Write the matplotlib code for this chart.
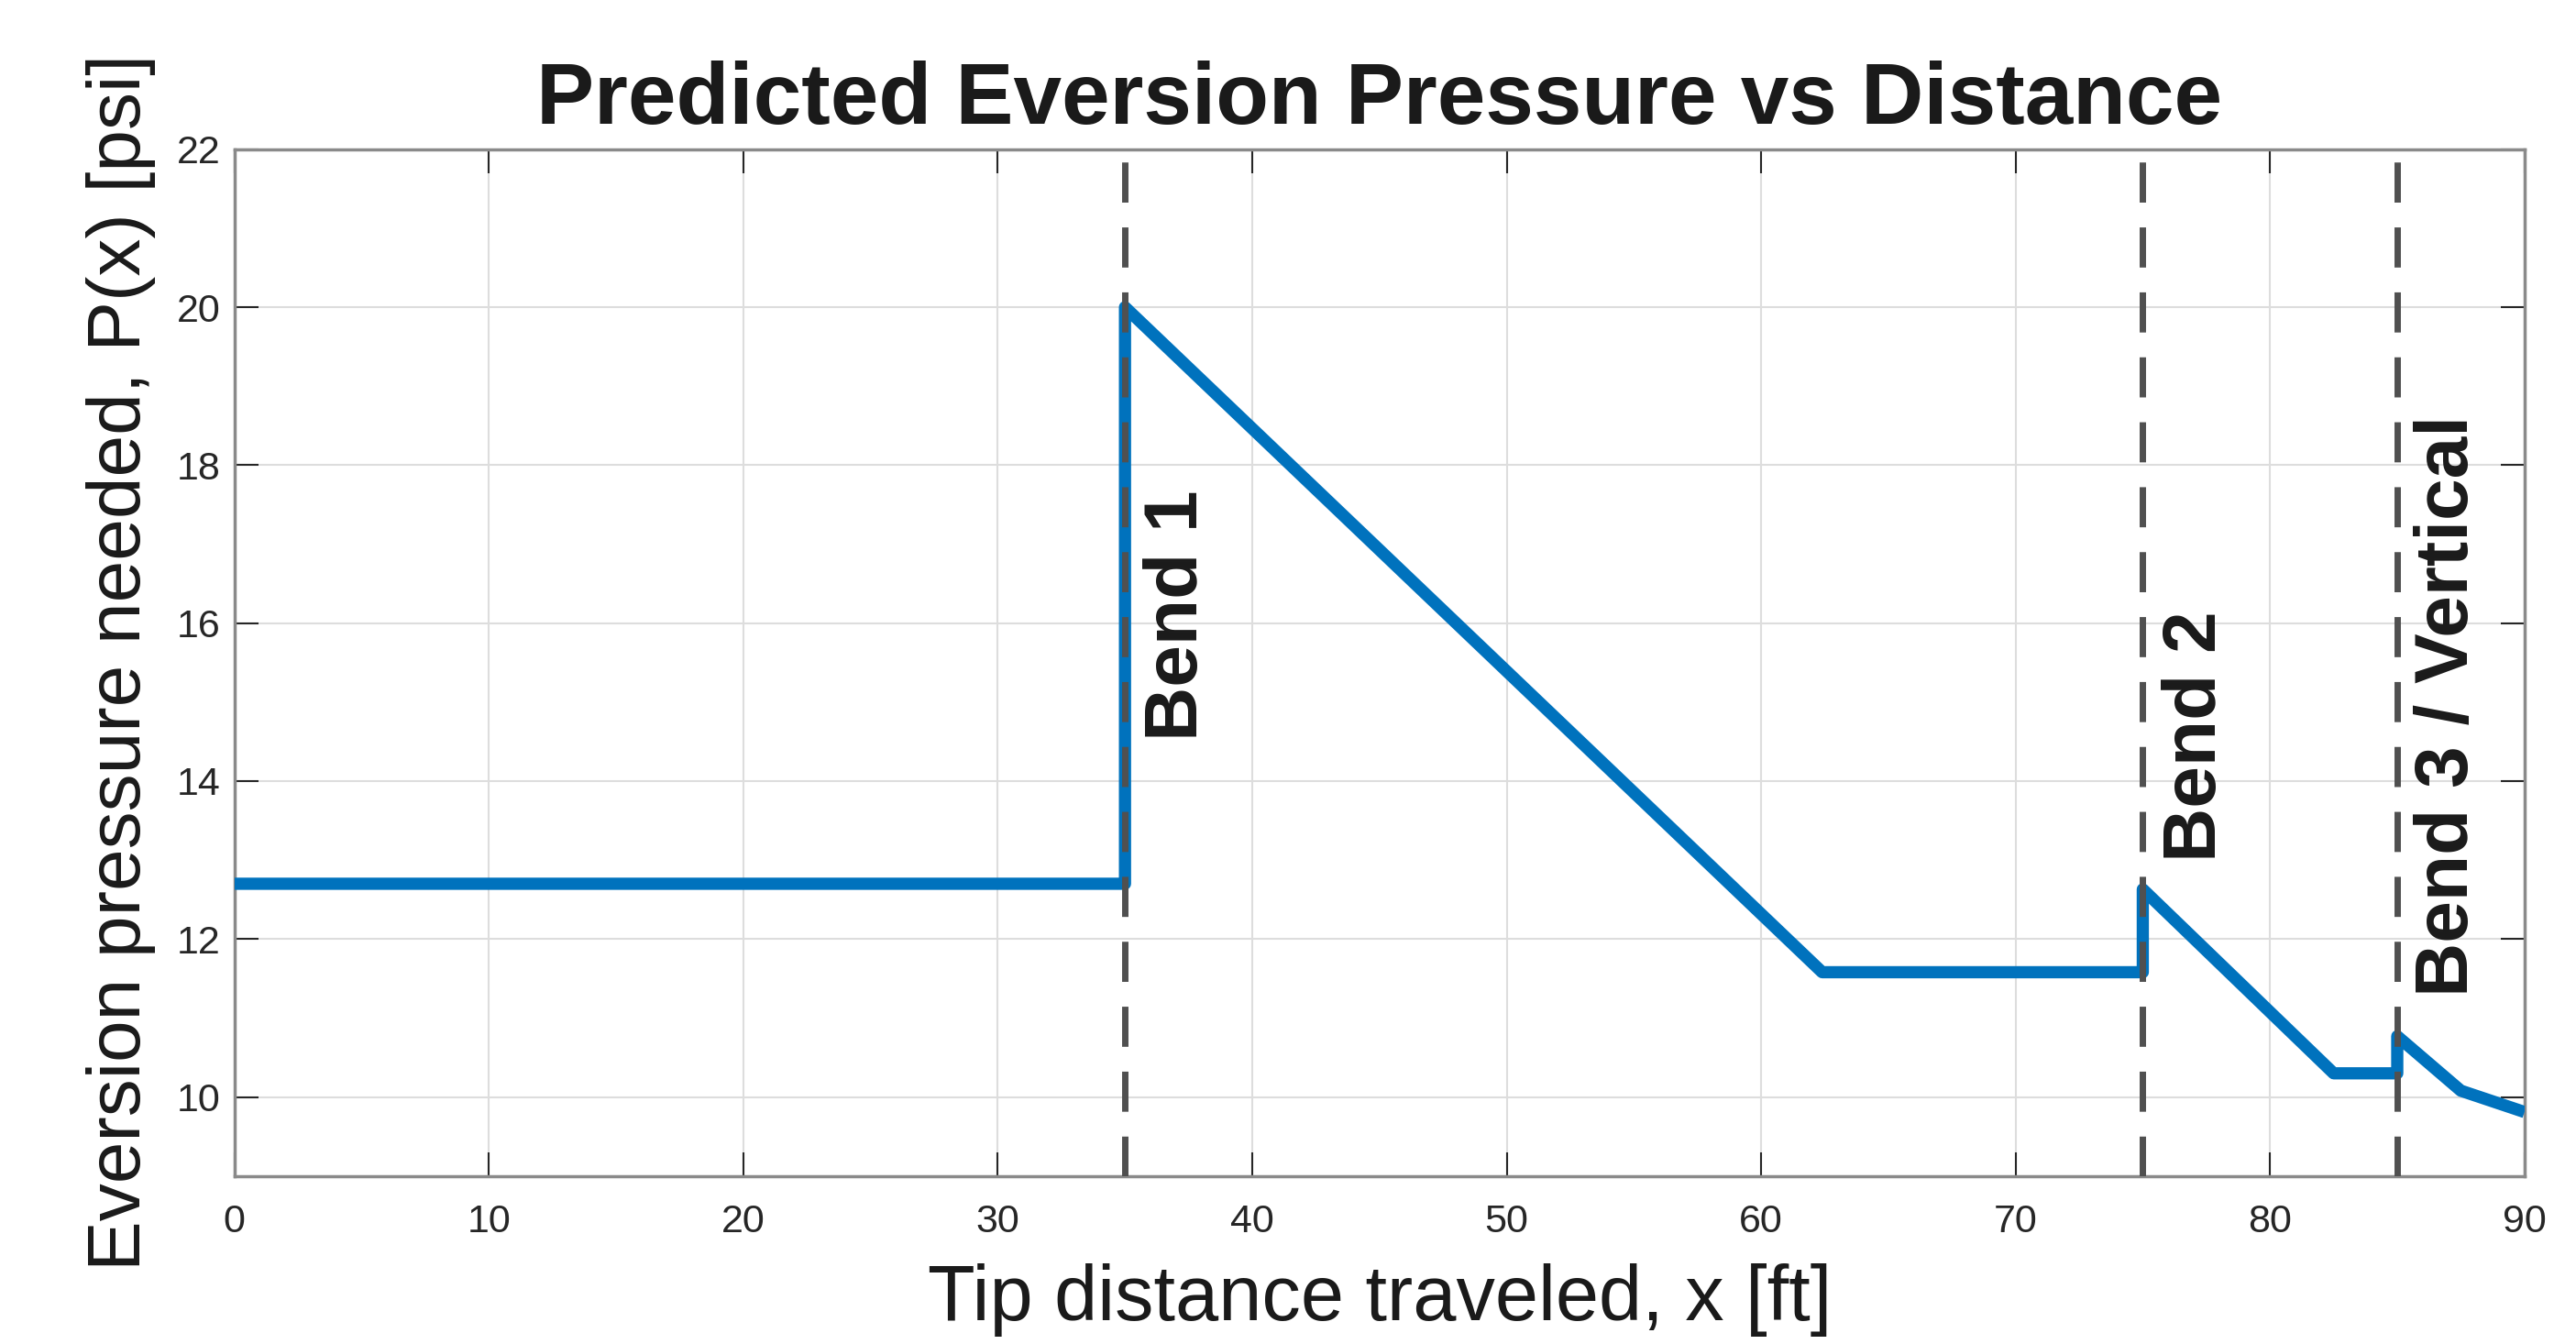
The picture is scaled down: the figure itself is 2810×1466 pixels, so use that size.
import matplotlib
matplotlib.use("Agg")
import matplotlib.pyplot as plt

plt.rcParams['font.family'] = ['Liberation Sans', 'DejaVu Sans']

# breakpoints of the pressure curve
dist_ft = [0, 35, 35, 62.4, 75, 75, 82.5, 85, 85, 87.5, 90]
pressure_psi = [12.7, 12.7, 20.0, 11.58, 11.58, 12.63, 10.3, 10.3, 10.77, 10.08, 9.81]

bend_x = [35, 75, 85]
bend_labels = ["Bend 1", "Bend 2", "Bend 3 / Vertical"]
bend_label_pos = [(37.1, 16.1), (77.1, 14.57), (87.0, 14.95)]

x_ticks = [0, 10, 20, 30, 40, 50, 60, 70, 80, 90]
y_ticks = [10, 12, 14, 16, 18, 20, 22]

fig = plt.figure(figsize=(28.1, 14.66), dpi=100)
ax = fig.add_axes([0.091, 0.125, 0.889, 0.764])

ax.plot(dist_ft, pressure_psi, color='#0072BD', linewidth=9.6, zorder=3,
        solid_joinstyle='round', solid_capstyle='butt')

for bx in bend_x:
    ax.axvline(bx, color='#505050', linewidth=5, linestyle=(0, (6.3, 3.9)), zorder=4)

for (tx, ty), lab in zip(bend_label_pos, bend_labels):
    ax.text(tx, ty, lab, rotation=90, ha='center', va='center',
            fontsize=59, fontweight='bold', color='#1a1a1a', zorder=5)

ax.set_xlim(0, 90)
ax.set_ylim(9, 22)
ax.set_xticks(x_ticks)
ax.set_yticks(y_ticks)
ax.grid(True, color='#dddddd', linewidth=1.5)
ax.set_axisbelow(True)

for sp in ax.spines.values():
    sp.set_color('#8a8a8a')
    sp.set_linewidth(2.5)

ax.tick_params(direction='in', length=19, width=1.5, colors='#262626',
               labelsize=31, top=True, right=True, pad=11)
ax.tick_params(axis='x', pad=22)

ax.set_xlabel('Tip distance traveled, x [ft]', fontsize=61, color='#1a1a1a', labelpad=18)
ax.set_ylabel('Eversion pressure needed, P(x) [psi]', fontsize=59, color='#1a1a1a', labelpad=16)
ax.set_title('Predicted Eversion Pressure vs Distance', fontsize=68, fontweight='bold',
             color='#1a1a1a', pad=20)

fig.savefig('out.png', dpi=100, facecolor='white')
